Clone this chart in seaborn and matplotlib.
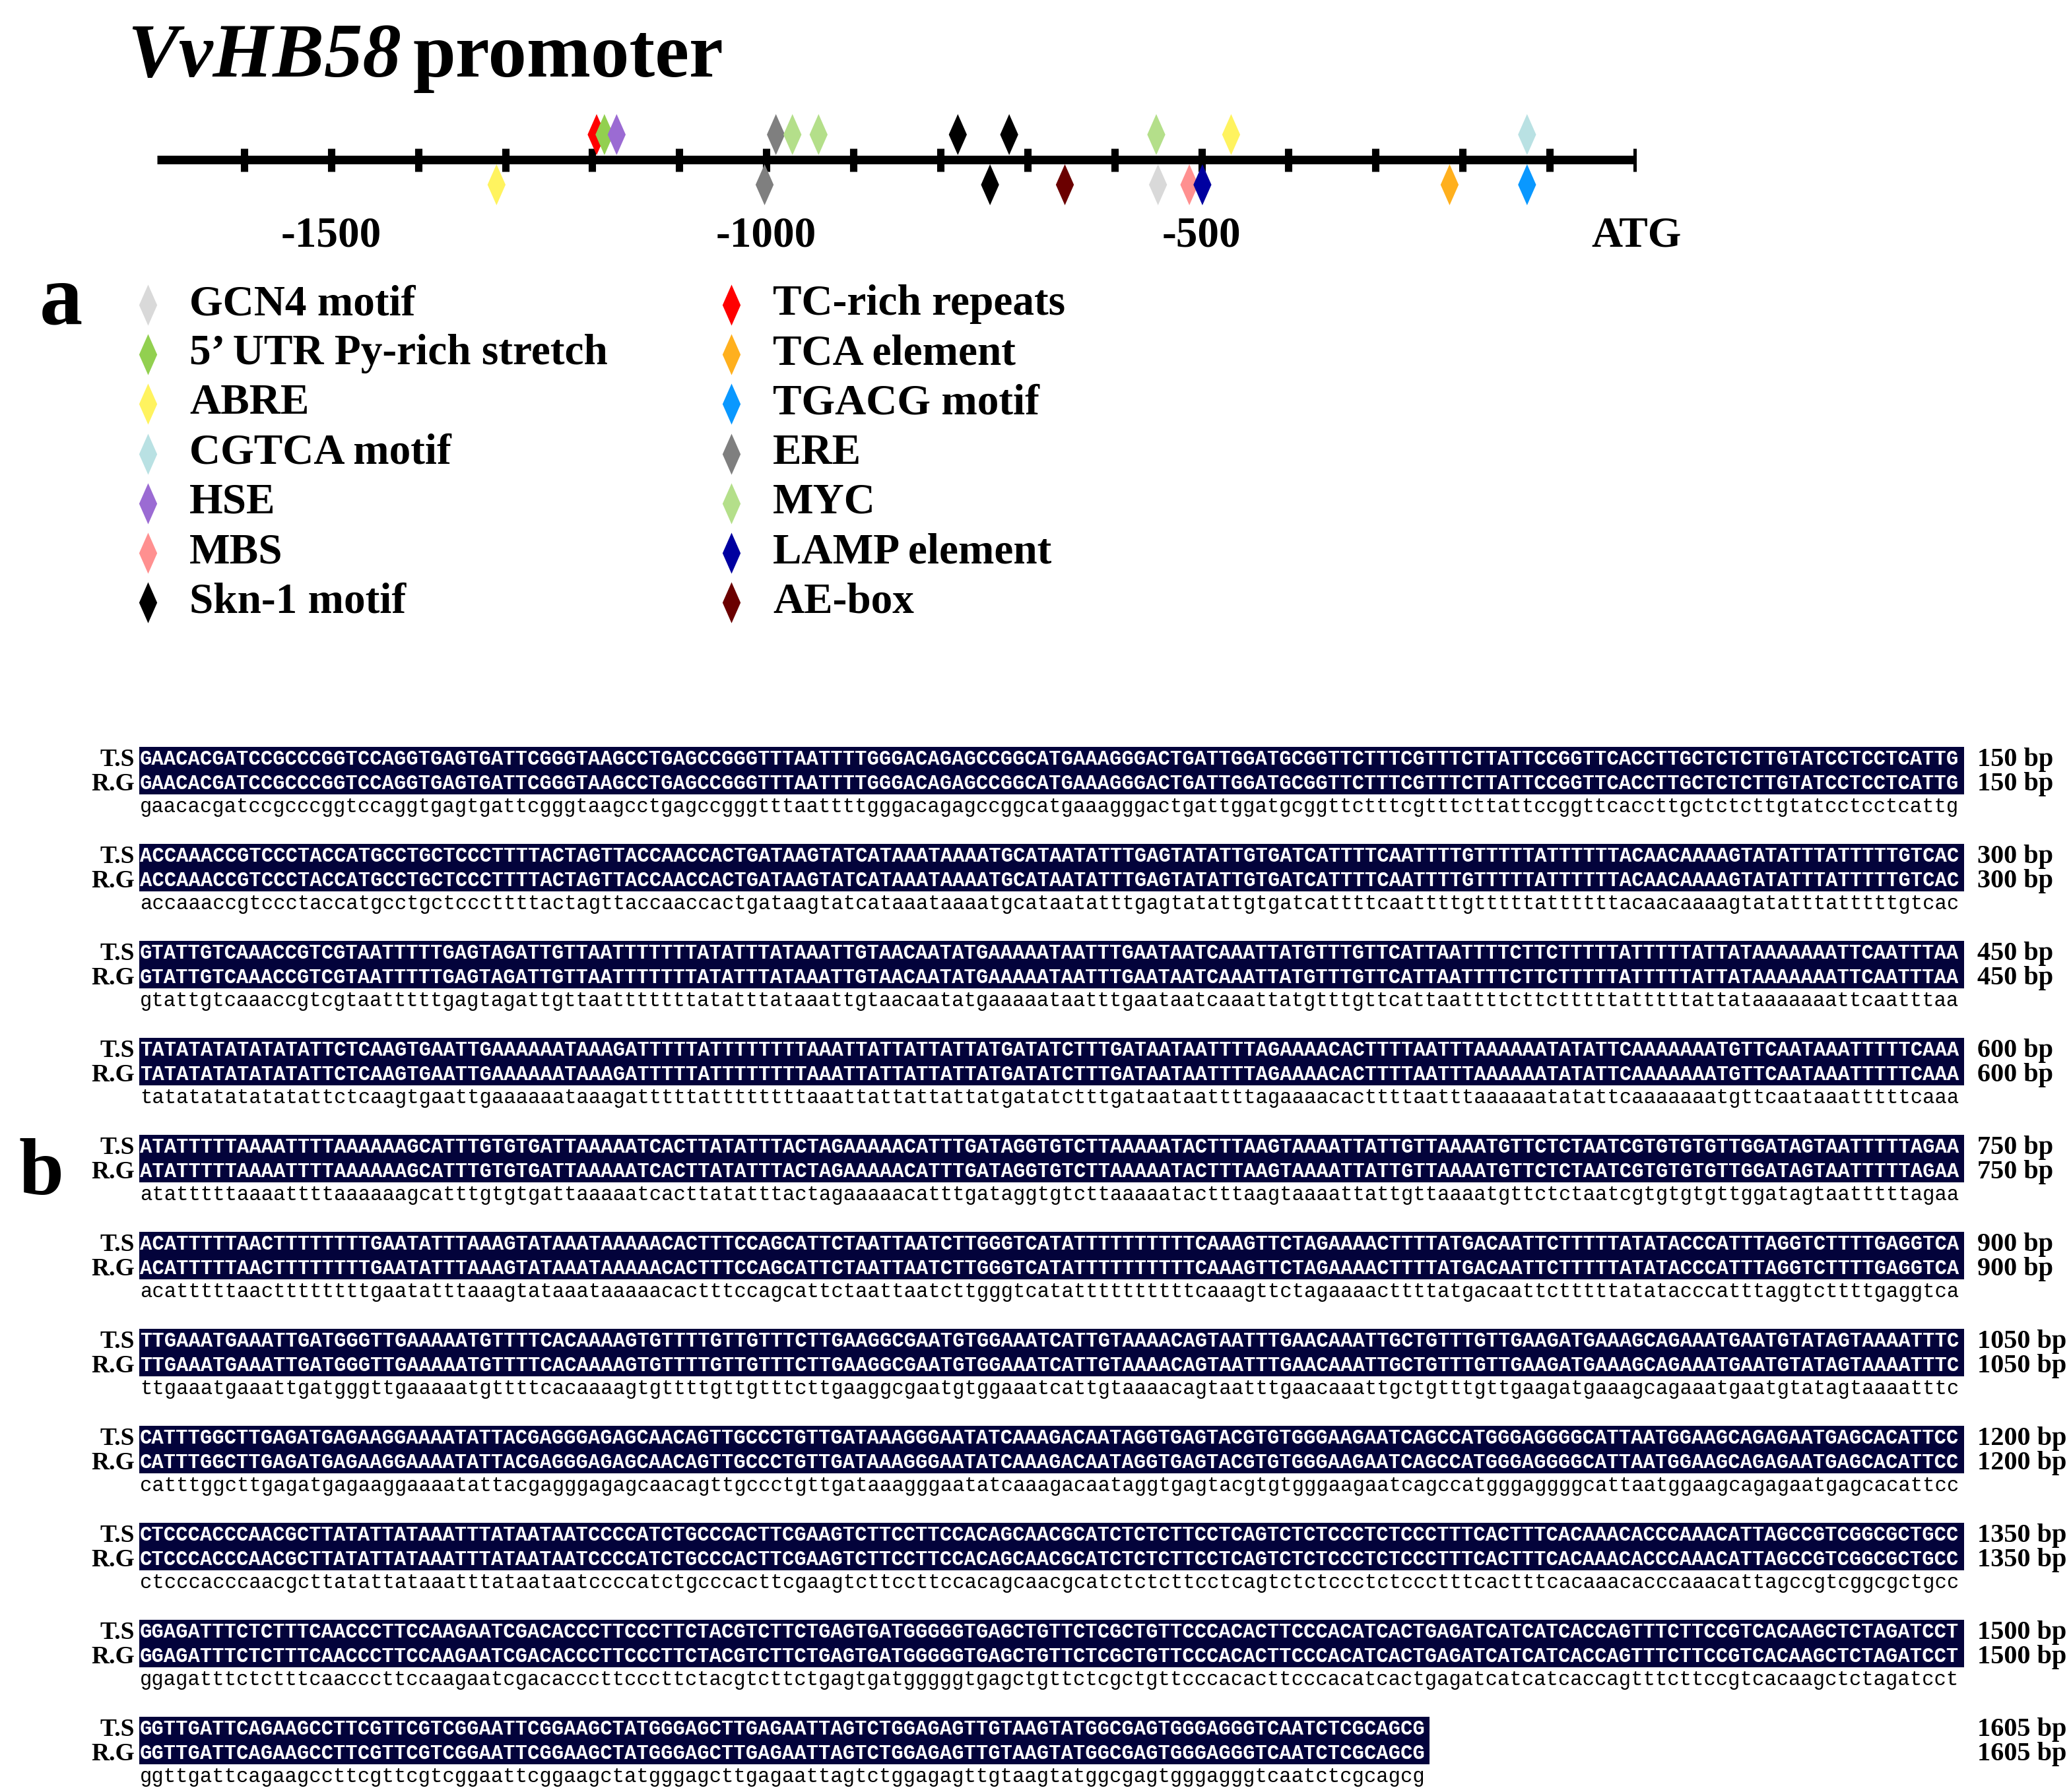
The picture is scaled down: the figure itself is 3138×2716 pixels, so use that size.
import numpy as np
import pandas as pd
import matplotlib
matplotlib.use("Agg")
import matplotlib.pyplot as plt
from matplotlib.path import Path
from matplotlib.patches import Rectangle
import seaborn as sns

# ---------------------------------------------------------------------
# cis-acting elements on the promoter (bp upstream of ATG)
# side: 1 = drawn above the line, -1 = drawn below
# ---------------------------------------------------------------------
elem_name = ["ABRE", "TC-rich repeats", "5' UTR", "HSE", "ERE", "ERE", "MYC", "MYC",
             "Skn-1", "Skn-1", "Skn-1", "AE-box", "GCN4", "MYC", "MBS", "LAMP",
             "ABRE", "TCA", "CGTCA", "TGACG"]
elem_pos = [-1310, -1195, -1186, -1172, -1002, -989, -970, -940,
            -780, -743, -721, -657, -550, -552, -514, -499,
            -466, -215, -126, -126]
elem_side = [-1, 1, 1, 1, -1, 1, 1, 1,
             1, -1, 1, -1, -1, 1, -1, -1,
             1, -1, 1, -1]

elem_color = {
    "GCN4": "#d9d9d9", "5' UTR": "#92d050", "ABRE": "#fff35f", "CGTCA": "#b9e1e3",
    "HSE": "#9b6bd3", "MBS": "#ff9090", "Skn-1": "#000000",
    "TC-rich repeats": "#ff0000", "TCA": "#ffb01e", "TGACG": "#0a98ff", "ERE": "#7f7f7f",
    "MYC": "#b4df8a", "LAMP": "#0000a0", "AE-box": "#6b0000",
}

legend_keys = ["GCN4", "5' UTR", "ABRE", "CGTCA", "HSE", "MBS", "Skn-1",
               "TC-rich repeats", "TCA", "TGACG", "ERE", "MYC", "LAMP", "AE-box"]
legend_text = ["GCN4 motif", "5\u2019 UTR Py-rich stretch", "ABRE", "CGTCA motif", "HSE", "MBS",
               "Skn-1 motif", "TC-rich repeats", "TCA element", "TGACG motif", "ERE", "MYC",
               "LAMP element", "AE-box"]

axis_ticks = [-1500, -1000, -500, 0]
axis_labels = ["-1500", "-1000", "-500", "ATG"]
minor_ticks = list(range(-1600, 1, 100))

# ---------------------------------------------------------------------
# promoter sequence alignment (T.S vs R.G, identical)
# ---------------------------------------------------------------------
seq_blocks = [
    "GAACACGATC CGCCCGGTCC AGGTGAGTGA TTCGGGTAAG CCTGAGCCGG GTTTAATTTT GGGACAGAGC CGGCATGAAA GGGACTGATT GGATGCGGTT CTTTCGTTTC TTATTCCGGT TCACCTTGCT CTCTTGTATC CTCCTCATTG",
    "ACCAAACCGT CCCTACCATG CCTGCTCCCT TTTACTAGTT ACCAACCACT GATAAGTATC ATAAATAAAA TGCATAATAT TTGAGTATAT TGTGATCATT TTCAATTTTG TTTTTATTTT TTACAACAAA AGTATATTTA TTTTTGTCAC",
    "GTATTGTCAA ACCGTCGTAA TTTTTGAGTA GATTGTTAAT TTTTTTATAT TTATAAATTG TAACAATATG AAAAATAATT TGAATAATCA AATTATGTTT GTTCATTAAT TTTCTTCTTT TTATTTTTAT TATAAAAAAA TTCAATTTAA",
    "TATATATATA TATATTCTCA AGTGAATTGA AAAAATAAAG ATTTTTATTT TTTTTAAATT ATTATTATTA TGATATCTTT GATAATAATT TTAGAAAACA CTTTTAATTT AAAAAATATA TTCAAAAAAA TGTTCAATAA ATTTTTCAAA",
    "ATATTTTTAA AATTTTAAAA AAGCATTTGT GTGATTAAAA ATCACTTATA TTTACTAGAA AAACATTTGA TAGGTGTCTT AAAAATACTT TAAGTAAAAT TATTGTTAAA ATGTTCTCTA ATCGTGTGTG TTGGATAGTA ATTTTTAGAA",
    "ACATTTTTAA CTTTTTTTTG AATATTTAAA GTATAAATAA AAACACTTTC CAGCATTCTA ATTAATCTTG GGTCATATTT TTTTTTTCAA AGTTCTAGAA AACTTTTATG ACAATTCTTT TTATATACCC ATTTAGGTCT TTTGAGGTCA",
    "TTGAAATGAA ATTGATGGGT TGAAAAATGT TTTCACAAAA GTGTTTTGTT GTTTCTTGAA GGCGAATGTG GAAATCATTG TAAAACAGTA ATTTGAACAA ATTGCTGTTT GTTGAAGATG AAAGCAGAAA TGAATGTATA GTAAAATTTC",
    "CATTTGGCTT GAGATGAGAA GGAAAATATT ACGAGGGAGA GCAACAGTTG CCCTGTTGAT AAAGGGAATA TCAAAGACAA TAGGTGAGTA CGTGTGGGAA GAATCAGCCA TGGGAGGGGC ATTAATGGAA GCAGAGAATG AGCACATTCC",
    "CTCCCACCCA ACGCTTATAT TATAAATTTA TAATAATCCC CATCTGCCCA CTTCGAAGTC TTCCTTCCAC AGCAACGCAT CTCTCTTCCT CAGTCTCTCC CTCTCCCTTT CACTTTCACA AACACCCAAA CATTAGCCGT CGGCGCTGCC",
    "GGAGATTTCT CTTTCAACCC TTCCAAGAAT CGACACCCTT CCCTTCTACG TCTTCTGAGT GATGGGGGTG AGCTGTTCTC GCTGTTCCCA CACTTCCCAC ATCACTGAGA TCATCATCAC CAGTTTCTTC CGTCACAAGC TCTAGATCCT",
    "GGTTGATTCA GAAGCCTTCG TTCGTCGGAA TTCGGAAGCT ATGGGAGCTT GAGAATTAGT CTGGAGAGTT GTAAGTATGG CGAGTGGGAG GGTCAATCTC GCAGCG",
]
seq_ends = [150, 300, 450, 600, 750, 900, 1050, 1200, 1350, 1500, 1605]
seq_names = ["T.S", "R.G"]

# ---------------------------------------------------------------------
# figure: one full-size pixel canvas + one axis for the promoter map
# ---------------------------------------------------------------------
sns.set_style("white")
plt.rcParams["font.family"] = ["Liberation Serif", "DejaVu Serif"]
plt.rcParams["text.color"] = "black"
plt.rcParams["xtick.color"] = "black"
plt.rcParams["xtick.labelcolor"] = "black"

W, H = 3138, 2716
fig = plt.figure(figsize=(W / 200, H / 200), dpi=200)
canvas = fig.add_axes([0, 0, 1, 1])
canvas.set_xlim(0, W)
canvas.set_ylim(H, 0)
canvas.axis("off")

diamond = Path([(0, 1), (0.44, 0), (0, -1), (-0.44, 0), (0, 1)],
               [Path.MOVETO, Path.LINETO, Path.LINETO, Path.LINETO, Path.CLOSEPOLY])
d_size = 500

# title
t1 = canvas.text(193, 116, "VvHB58", fontsize=42, fontweight="bold", style="italic")
fig.canvas.draw()
bb = t1.get_window_extent(renderer=fig.canvas.get_renderer())
canvas.text(bb.x1 + 18, 116, "promoter", fontsize=42, fontweight="bold")

# promoter map
line_y, half = 242, 80
ax = fig.add_axes([238 / W, 1 - (line_y + half) / H, (2480 - 238) / W, 2 * half / H])
ax.patch.set_alpha(0)
ax.plot([-1700, 0], [0, 0], color="black", lw=4.7, solid_capstyle="butt", zorder=1)
ax.vlines(minor_ticks, -0.225, 0.2125, color="black", lw=4, zorder=1)

df = pd.DataFrame({"element": elem_name, "pos": elem_pos, "side": elem_side})
df["y"] = df["side"] * 0.475
sns.scatterplot(data=df, x="pos", y="y", hue="element", palette=elem_color,
                marker=diamond, s=d_size, linewidth=0, edgecolor="none",
                legend=False, ax=ax, zorder=3)
ax.set_xlim(-1700, 0)
ax.set_ylim(-1, 1)
ax.set_xticks(axis_ticks, labels=axis_labels)
ax.set_yticks([])
ax.tick_params(axis="x", length=0, pad=2, labelcolor="black")
for lab in ax.get_xticklabels():
    lab.set_fontsize(23.5)
    lab.set_fontweight("bold")
ax.set_xlabel("")
ax.set_ylabel("")
sns.despine(ax=ax, left=True, bottom=True)

# legend (two columns)
canvas.text(92, 490, "a", fontsize=47, fontweight="bold", ha="center")
for i, (key, txt) in enumerate(zip(legend_keys, legend_text)):
    col, row = divmod(i, 7)
    ry = 462 + 75.2 * row
    mx = 224 + col * 884
    canvas.scatter([mx], [ry], marker=diamond, s=d_size, color=elem_color[key], linewidths=0)
    canvas.text(mx + 63, ry + 15, txt, fontsize=23.5, fontweight="bold", va="baseline")

# sequence alignment
canvas.text(62, 1810, "b", fontsize=44, fontweight="bold", ha="center")
cw = 18.42
x0 = 212
for k, (raw, end) in enumerate(zip(seq_blocks, seq_ends)):
    seq = raw.replace(" ", "")
    top = 1132 + 147 * k
    canvas.add_patch(Rectangle((x0 - 1, top), cw * len(seq) + 2, 72,
                               facecolor="#03033b", edgecolor="none"))
    for j, name in enumerate(seq_names):
        cy = top + 17 + 37 * j
        canvas.text(x0, cy + 10, seq, fontsize=11.05, family="Liberation Mono",
                    fontweight="bold", color="white", va="baseline")
        canvas.text(204, cy + 12, name, fontsize=13.5, fontweight="bold",
                    ha="right", va="baseline")
        canvas.text(2996, cy + 12, f"{end} bp", fontsize=14.5, fontweight="bold",
                    va="baseline")
    canvas.text(x0, top + 99, seq.lower(), fontsize=11.05, family="Liberation Mono",
                color="black", va="baseline")

fig.savefig("out.png", dpi=200)
